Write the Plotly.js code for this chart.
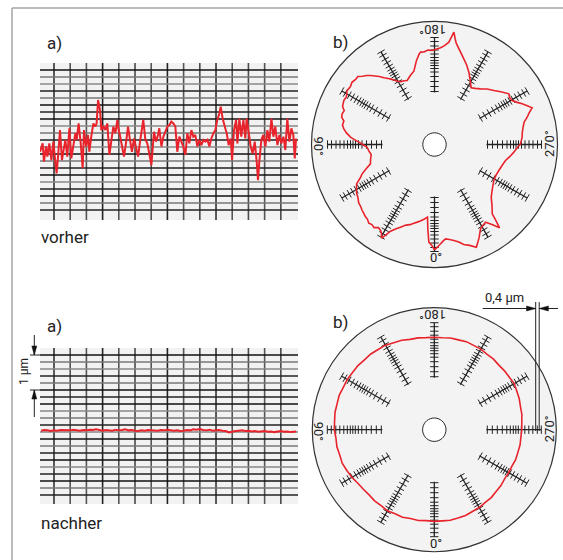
<!DOCTYPE html>
<html><head><meta charset="utf-8">
<script src="https://cdn.plot.ly/plotly-3.0.1.min.js"></script>
<style>html,body{margin:0;padding:0;background:#fff}#chart{width:563px;height:560px}</style>
</head><body><div id="chart"></div>
<script>
// ---------- DATA ----------
// "vorher" surface profile: position (grid divisions) and height (µm)
const vorherX = [-0.86,-0.70,-0.62,-0.49,-0.41,-0.29,-0.16,-0.04,0.08,0.16,0.25,0.37,0.49,0.58,0.70,0.82,0.95,1.07,1.19,1.32,1.40,1.52,1.65,1.77,1.85,1.98,2.10,2.18,2.30,2.43,2.55,2.63,2.72,2.84,2.92,3.05,3.17,3.29,3.42,3.54,3.66,3.79,3.91,3.99,4.07,4.20,4.32,4.44,4.57,4.69,4.81,4.94,5.06,5.19,5.31,5.43,5.51,5.64,5.76,5.88,6.01,
6.17,6.30,6.42,6.50,6.63,6.75,6.87,7.00,7.12,7.24,7.37,7.49,7.61,7.74,7.86,7.98,8.11,8.23,8.35,8.48,8.60,8.72,8.85,8.97,9.10,9.22,9.34,9.47,9.59,9.71,9.84,9.96,10.08,10.21,10.29,10.41,10.54,10.66,10.78,10.91,10.99,11.11,11.24,11.32,11.44,11.56,11.69,11.81,11.89,12.02,12.14,12.26,12.39,12.51,12.59,12.68,12.80,12.92,13.05,13.17,13.29,13.42,13.54,13.66,13.79,13.91,14.03,14.16,14.28,14.40,14.53,14.65,14.77,14.86,14.94];
const vorherY = [-0.05,0.19,-0.33,0.10,-0.19,0.19,-0.29,0.24,-0.33,-0.67,-0.19,0.57,-0.29,0.00,0.29,-0.19,0.62,-0.24,0.10,0.48,0.29,0.76,0.19,-0.52,0.57,0.10,0.43,-0.05,0.38,0.76,0.67,0.76,1.43,1.14,0.57,0.67,0.57,0.76,-0.14,0.29,0.67,0.48,0.86,0.57,0.43,0.10,-0.19,0.19,0.67,0.29,-0.05,0.33,0.10,-0.19,0.24,0.57,0.86,0.29,0.19,-0.10,-0.43,
0.52,0.24,0.43,0.62,0.10,0.38,0.52,0.67,0.71,0.81,0.76,0.67,-0.05,0.38,0.24,0.10,-0.14,0.48,0.19,0.57,0.38,0.43,0.10,0.29,0.14,0.29,0.24,0.29,0.10,0.33,0.48,0.57,0.86,1.05,1.24,0.90,0.67,0.48,0.14,0.33,-0.29,0.57,0.86,0.19,0.90,0.38,0.86,0.33,0.90,0.48,0.10,-0.10,0.24,-0.33,-0.86,-0.29,0.29,0.43,0.10,0.57,0.24,0.90,0.38,0.67,0.14,0.43,0.19,0.38,0.00,0.90,0.24,0.62,0.43,-0.24,0.33];

// "nachher" surface profile
const nachherX = [-0.8,-0.6,-0.4,-0.2,0.0,0.2,0.4,0.6,0.8,1.0,1.2,1.4,1.6,1.8,2.0,2.2,2.4,2.6,2.8,3.0,3.2,3.4,3.6,3.8,4.0,4.2,4.4,4.6,4.8,5.0,5.2,5.4,5.6,5.8,6.0,6.2,6.4,6.6,6.8,7.0,7.2,7.4,7.6,7.8,8.0,8.2,8.4,8.6,8.8,9.0,9.2,9.4,9.6,9.8,10.0,10.2,10.4,10.6,10.8,11.0,11.2,11.4,11.6,11.8,12.0,12.2,12.4,12.6,12.8,13.0,13.2,13.4,13.6,13.8,14.0,14.2,14.4,14.6,14.8,14.95];
const nachherY = [0.00,0.02,0.01,-0.01,0.01,0.00,0.02,0.01,0.00,0.01,0.03,0.01,0.00,0.02,0.01,0.03,0.02,0.04,0.01,0.00,0.02,0.01,0.00,0.03,0.01,0.02,0.04,0.01,0.02,0.00,-0.01,0.01,0.00,0.02,0.01,-0.01,0.00,0.02,0.01,0.03,0.01,0.00,0.01,-0.01,0.00,0.02,0.01,0.04,0.03,0.05,0.02,0.01,0.03,0.00,0.01,0.02,0.00,-0.01,-0.05,-0.02,-0.01,0.00,0.01,-0.01,0.00,-0.02,-0.01,-0.03,-0.02,-0.01,-0.03,-0.02,-0.04,-0.02,-0.01,-0.03,-0.02,-0.04,-0.03,-0.02];

// roundness plots (angle in degrees, radius in chart units)
const rundVorherTheta = [0,1.5,3.3,4.5,5.5,8,10.5,12.5,14.7,17,19.5,22.4,24.5,26.9,28.3,29.5,30.8,32.1,34,36,38,39.9,42,44,46,47.6,50,52.5,55.5,58,60.5,63.2,65.5,67.9,70.5,73.2,77,81,84.5,87.7,89.8,91.8,93.5,95,97.5,99.8,102,104.5,106.5,108.4,110.5,112.5,115.9,118.5,121.5,124.6,127,129.5,131.6,133.5,135.5,137.2,139,141,142.8,145,147.2,149.5,152,154.5,156.9,159,161.5,164.3,166,167.8,169.2,170.3,171.4,173.5,176,178.6,181,183.6,185.8,188,189.8,191,192.1,195,198.9,202,205.4,209,212.9,216,219.6,223.5,227.7,231.5,235.7,238,240.5,243,245.1,247.3,249.4,251.5,253.6,256,258.9,262,265.5,269.6,272.5,275.5,279,282.7,287,292,296.5,301.2,307,312.9,316.5,320.2,321,322,324.3,326.7,329,331.4,334.5,337.8,340.8,343.7,346,348.6,351,353.3,355,356.5,358.3,360];
const rundVorherR = [105.3,101,97.8,85,73,75.5,77.8,79.5,81.3,83.8,85.5,89.4,92.5,97.2,103,107.6,103.5,101.5,100.2,102.8,101.6,102.5,100.3,99.8,98.6,97.9,96.4,95.6,93,91.8,89.6,87.3,82,78.1,72.5,66.9,65.6,64.1,66,67.4,71.5,75.7,80.2,84.3,88.8,92,94.1,93.6,96.8,97.3,96.4,99.5,100.8,100.2,102.7,102.1,103.4,102.2,102.5,99.2,96.8,94.1,90.8,87.6,83.7,80.5,77.2,73.5,71.2,70.6,69.6,71.5,73.8,76.2,80.5,85.6,88.9,91.6,93.4,93.1,94.6,94,95.3,96.9,99.4,103.3,114,108,103.6,97.4,90.5,85.8,80.1,73.6,67.5,69.4,72.2,76.5,80.2,84.8,90,88.6,89.3,92.8,96.6,100.5,104.3,99.8,96.6,92.4,90.3,88.7,87.8,86,82.6,79.7,76.4,72.8,70.8,69.4,68.8,69.4,72.6,77.4,83.5,90.2,97,105.7,98.5,92.9,94.3,96.1,103.5,110.9,106.8,104.2,100.6,97.9,96.2,95,97,99.5,102.5,105.3];
const rundNachherTheta = [0,5,10,15,20,25,30,35,40,45,50,55,60,65,70,75,80,85,90,95,100,105,110,115,120,125,130,135,140,145,150,155,160,165,170,175,180,185,190,195,200,205,210,215,220,225,230,235,240,245,250,255,260,265,270,275,280,285,290,295,300,305,310,315,320,325,330,335,340,345,350,355,360];
const rundNachherR = [91.7,91.3,92.2,92.0,93.1,92.8,93.7,92.8,92.9,92.2,92.6,93.3,95.2,96.5,98.0,97.9,98.9,98.7,100.0,100.1,100.8,100.6,101.1,100.4,100.5,99.8,99.7,98.8,98.8,97.9,97.6,96.0,95.2,93.5,93.2,92.4,92.5,92.3,93.1,93.0,93.7,93.0,93.0,92.1,92.1,91.3,91.6,91.6,92.3,91.1,90.4,89.2,88.9,87.8,87.5,86.9,87.1,86.6,86.7,85.8,85.9,85.8,87.0,87.4,88.6,88.8,89.9,90.2,91.3,91.4,91.9,91.5,91.7];

// scale spokes and angle labels
const spokeAngles = [0,30,60,90,120,150,180,210,240,270,300,330];
const spokeTickR = [53,58,63,68,72.5,76,79,81.5,84,87,90.5,94.5,98.5,103,107];
const angleLabels = ['0°','90°','180°','270°'];
const gridXTicks = [0,1,2,3,4,5,6,7,8,9,10,11,12,13,14];

// ---------- LAYOUT HELPERS ----------
const W = 563, H = 560;
const PX = x => x / W, PY = y => 1 - y / H;
const FONT = 'Roboto, Liberation Sans, Arial, sans-serif';
const RED = '#e8232b';

const vCols = ['#333','#555','#555','#222','#555','#4a4a4a','#555','#222','#555','#4a4a4a','#333','#555','#4a4a4a','#555','#4a4a4a'];
const hCols = ['#111','#777','#888','#222','#777','#111','#222','#111','#888','#777','#222','#888','#111','#777','#222','#111','#888','#222','#111','#777','#222'];

const shapes = [];
function gridFor(xr, yr, yStart) {
  gridXTicks.forEach((g, i) => shapes.push({type:'line', layer:'below', xref:xr, yref:yr+' domain', x0:g, x1:g, y0:0, y1:1, line:{color:vCols[i], width:1.6}}));
  hCols.forEach((c, k) => { const v = yStart - 0.2*k; shapes.push({type:'line', layer:'below', xref:xr+' domain', yref:yr, x0:0, x1:1, y0:v, y1:v, line:{color:c, width:1.3}}); });
}
gridFor('x', 'y', 2.286);
gridFor('x2', 'y2', 2.163);

function pline(x0,y0,x1,y1,w,c){ shapes.push({type:'line', xref:'paper', yref:'paper', x0:PX(x0), y0:PY(y0), x1:PX(x1), y1:PY(y1), line:{color:c||'#222', width:w||1}}); }
function tri(pts){ shapes.push({type:'path', xref:'paper', yref:'paper', path:'M'+pts.map(p=>PX(p[0])+','+PY(p[1])).join(' L')+' Z', fillcolor:'#111', line:{color:'#111', width:0.5}}); }

// frame
pline(12,8,563,8,1.5,'#a5a5a5');
pline(12,8,12,560,1.5,'#a5a5a5');
// 1 µm dimension
pline(34.3,335,34.3,355,1,'#222');
pline(34.3,390,34.3,417,1,'#222');
pline(30,355,40,355,1,'#222');
pline(30,390,40,390,1,'#222');
tri([[34.3,355],[31.8,346],[36.8,346]]);
tri([[34.3,390],[31.8,399],[36.8,399]]);
// 0,4 µm dimension
pline(535.7,302,535.7,431,1,'#222');
pline(539.2,302,539.2,431,1,'#222');
pline(482.7,308.5,535.7,308.5,1,'#222');
pline(539.2,308.5,558,308.5,1,'#222');
tri([[535.7,308.5],[526.5,306],[526.5,311]]);
tri([[539.2,308.5],[548.4,306],[548.4,311]]);

const ann = [];
function label(t, x, y, size, opts) {
  ann.push(Object.assign({text:t, xref:'paper', yref:'paper', x:PX(x), y:PY(y), showarrow:false, xanchor:'center', yanchor:'middle', font:{family:FONT, size:size, color:'#222'}}, opts||{}));
}
label('a)', 45, 43, 17, {xanchor:'left'});
label('b)', 331, 42, 17, {xanchor:'left'});
label('vorher', 39, 237, 17, {xanchor:'left'});
label('a)', 45, 326, 17, {xanchor:'left'});
label('b)', 331, 322, 17, {xanchor:'left'});
label('nachher', 39, 523, 17, {xanchor:'left'});
label('1 µm', 24, 372, 12, {textangle:-90});
label('0,4 µm', 483, 297, 13, {xanchor:'left'});
// angle labels
[[144.5, 0], [429.7, 285.3]].forEach(([cy, off]) => {
  label(angleLabels[0], 436, 258 + off, 13);
  label(angleLabels[1], 318, cy + 2, 13, {textangle:90});
  label(angleLabels[2], 433, cy - 114.5, 13, {textangle:180});
  label(angleLabels[3], 549.5, cy - 1, 13, {textangle:-90});
});

// ---------- TRACES ----------
const traces = [];
traces.push({type:'scatter', mode:'lines', x:vorherX, y:vorherY, xaxis:'x', yaxis:'y', line:{color:RED, width:2}, hoverinfo:'skip'});
traces.push({type:'scatter', mode:'lines', x:nachherX, y:nachherY, xaxis:'x2', yaxis:'y2', line:{color:RED, width:2}, hoverinfo:'skip'});

function dial(sub, thetaArr, rArr) {
  const circT = [], circR = [];
  for (let a = 0; a <= 360; a += 10) { circT.push(a); circR.push(11.7); }
  traces.push({type:'scatterpolar', subplot:sub, mode:'lines', theta:circT, r:circR, fill:'toself', fillcolor:'#ffffff', line:{color:'#222', width:1}, hoverinfo:'skip'});
  const sT = [], sR = [], tT = [], tR = [];
  const h = 4.2;
  spokeAngles.forEach(a => {
    sT.push(a, a, null); sR.push(52, 107, null);
    spokeTickR.forEach(r => {
      const d = Math.atan(h / r) * 180 / Math.PI, rr = Math.sqrt(r*r + h*h);
      tT.push(a - d, a + d, null); tR.push(rr, rr, null);
    });
  });
  traces.push({type:'scatterpolar', subplot:sub, mode:'lines', theta:sT, r:sR, line:{color:'#222', width:1.3}, connectgaps:false, hoverinfo:'skip'});
  traces.push({type:'scatterpolar', subplot:sub, mode:'lines', theta:tT, r:tR, line:{color:'#222', width:1}, connectgaps:false, hoverinfo:'skip'});
  traces.push({type:'scatterpolar', subplot:sub, mode:'lines', theta:thetaArr, r:rArr, line:{color:RED, width:1.6}, hoverinfo:'skip'});
}
dial('polar', rundVorherTheta, rundVorherR);
dial('polar2', rundNachherTheta, rundNachherR);

const ax = {showgrid:false, zeroline:false, showticklabels:false, ticks:'', showline:false, fixedrange:true};
function polarCfg(cx, cy, R) {
  return {domain:{x:[PX(cx-R), PX(cx+R)], y:[PY(cy+R), PY(cy-R)]}, bgcolor:'#f3f3f3',
    radialaxis:{visible:false, range:[0, R]},
    angularaxis:{rotation:270, direction:'clockwise', showgrid:false, showticklabels:false, ticks:'', showline:true, linecolor:'#333', linewidth:1.2}};
}
const layout = {
  width:W, height:H, margin:{l:0,r:0,t:0,b:0}, paper_bgcolor:'#ffffff', plot_bgcolor:'#f2f2f2', showlegend:false,
  xaxis:Object.assign({domain:[PX(40),PX(298)], range:[-0.864,15.06], anchor:'y'}, ax),
  yaxis:Object.assign({domain:[PY(220),PY(63)], range:[-2.0,2.486], anchor:'x'}, ax),
  xaxis2:Object.assign({domain:[PX(40),PX(298)], range:[-0.864,15.06], anchor:'y2'}, ax),
  yaxis2:Object.assign({domain:[PY(504),PY(348)], range:[-2.094,2.363], anchor:'x2'}, ax),
  polar:polarCfg(434.5, 144.5, 123),
  polar2:polarCfg(434.3, 429.7, 122),
  shapes:shapes, annotations:ann
};
Plotly.newPlot('chart', traces, layout, {displayModeBar:false, staticPlot:true});
</script></body></html>
